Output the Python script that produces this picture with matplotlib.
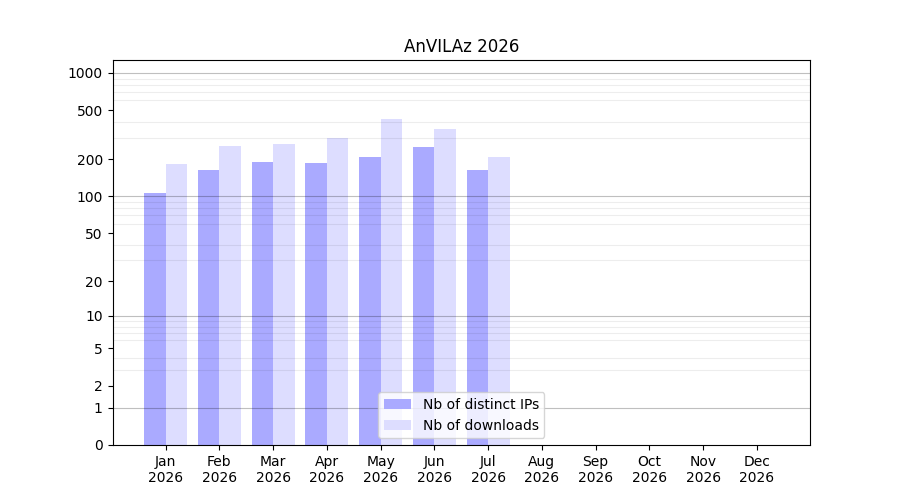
import numpy as np
import matplotlib
matplotlib.use('Agg')
import matplotlib.pyplot as plt

months = ['Jan', 'Feb', 'Mar', 'Apr', 'May', 'Jun',
          'Jul', 'Aug', 'Sep', 'Oct', 'Nov', 'Dec']
year = 2026
distinct_ips = [106, 164, 190, 187, 209, 252, 164, 0, 0, 0, 0, 0]
downloads = [184, 257, 266, 298, 425, 352, 209, 0, 0, 0, 0, 0]
y_ticks = [0, 1, 2, 5, 10, 20, 50, 100, 200, 500, 1000]


def forward(v):
    return np.log10(np.asarray(v, dtype=float) + 1)


def inverse(v):
    return 10 ** np.asarray(v, dtype=float) - 1


fig, ax = plt.subplots(figsize=(9, 5), dpi=100)
x = np.arange(len(months))
w = 0.4
ax.bar(x - w / 2, distinct_ips, w, color='#aaaaff', label='Nb of distinct IPs')
ax.bar(x + w / 2, downloads, w, color='#ddddff', label='Nb of downloads')

ax.set_yscale('function', functions=(forward, inverse))
ax.set_ylim(0, 1270)
ax.set_yticks(y_ticks)
ax.set_yticklabels([str(t) for t in y_ticks])

# light lines at every 2..9 multiple, darker ones at the decades
minor = [m * 10 ** k for k in range(0, 3) for m in range(2, 10)]
ax.set_yticks(minor, minor=True)
ax.tick_params(axis='y', which='minor', length=0)
ax.grid(False)
ax.yaxis.grid(True, which='minor', color='black', alpha=0.07, linewidth=0.8)
for d in [1, 10, 100, 1000]:
    ax.axhline(d, color='black', alpha=0.25, linewidth=0.8, zorder=1.5)

ax.set_xticks(x)
ax.set_xticklabels([f'{m}\n{year}' for m in months])
ax.set_title(f'AnVILAz {year}')
ax.legend(loc='lower center')

plt.savefig('out.png')
